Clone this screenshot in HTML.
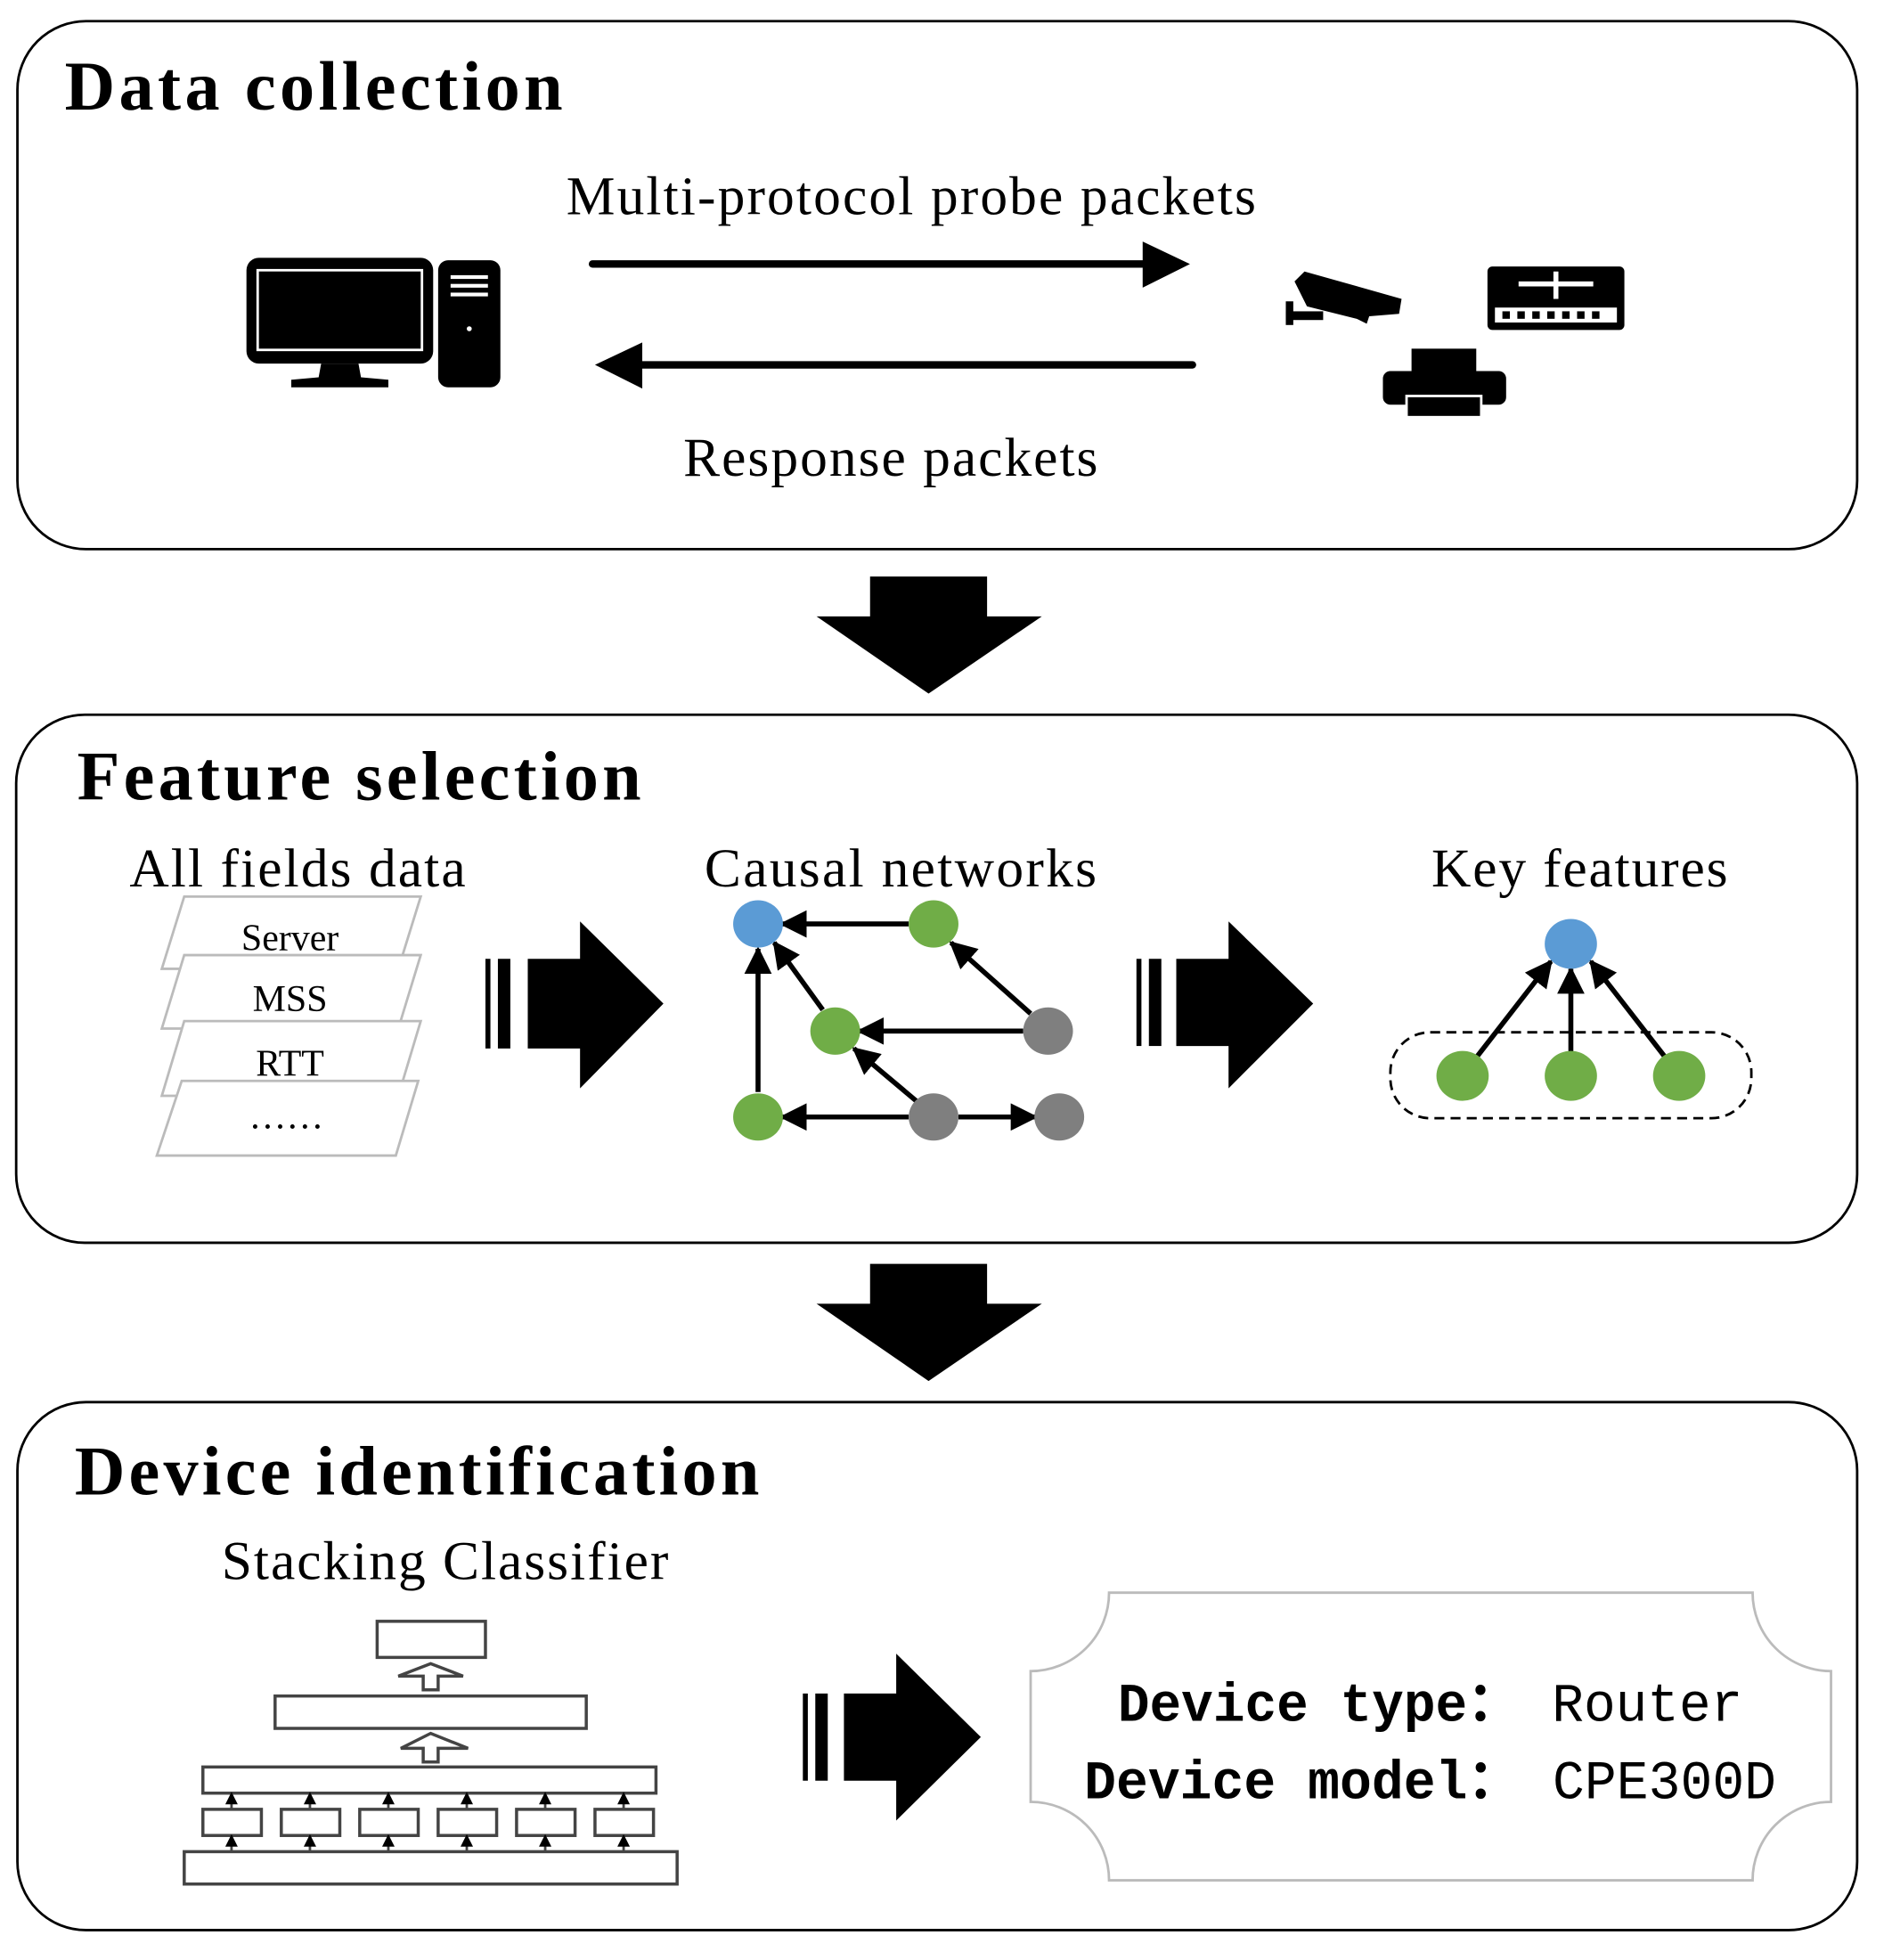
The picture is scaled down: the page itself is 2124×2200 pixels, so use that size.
<!DOCTYPE html>
<html><head><meta charset="utf-8"><style>html,body{margin:0;padding:0;background:#fff}svg{display:block}</style></head><body>
<svg width="2124" height="2200" viewBox="0 0 1520 1574" preserveAspectRatio="none" xmlns="http://www.w3.org/2000/svg">
<defs>
<marker id="ah" markerWidth="10" markerHeight="10" refX="8" refY="5" orient="auto" markerUnits="userSpaceOnUse"><path d="M0,0 L10,5 L0,10 Z" fill="#000"/></marker>
<marker id="ah2" markerWidth="22" markerHeight="22" refX="20" refY="11" orient="auto" markerUnits="userSpaceOnUse"><path d="M0,0 L22,11 L0,22 Z" fill="#000"/></marker>
</defs>
<g fill="none" stroke="#000" stroke-width="2">
<rect x="14" y="17" width="1478" height="424" rx="55"/>
<rect x="13" y="574" width="1479" height="424" rx="55"/>
<rect x="14" y="1126" width="1478" height="424" rx="55"/>
</g>
<g font-family="Liberation Serif, serif" fill="#000">
<text x="52" y="88" font-size="56" font-weight="bold" textLength="400">Data collection</text>
<text x="455" y="172" font-size="44" textLength="554">Multi-protocol probe packets</text>
<text x="549" y="382" font-size="44" textLength="333">Response packets</text>
<text x="62" y="642" font-size="56" font-weight="bold" textLength="453">Feature selection</text>
<text x="104" y="712" font-size="44" textLength="270">All fields data</text>
<text x="566" y="712" font-size="44" textLength="315">Causal networks</text>
<text x="1150" y="712" font-size="44" textLength="238">Key features</text>
<text x="60" y="1200" font-size="56" font-weight="bold" textLength="550">Device identification</text>
<text x="178" y="1268" font-size="44" textLength="359">Stacking Classifier</text>
</g>
<!-- arrows data collection -->
<line x1="476" y1="212" x2="922" y2="212" stroke="#000" stroke-width="6" stroke-linecap="round"/>
<path d="M918,194 L956,212 L918,231 Z"/>
<line x1="512" y1="293" x2="958" y2="293" stroke="#000" stroke-width="6" stroke-linecap="round"/>
<path d="M516,275 L478,293 L516,312 Z"/>
<!-- computer -->
<rect x="198" y="207" width="150" height="85" rx="10"/>
<rect x="207" y="217" width="132" height="64" fill="#000" stroke="#fff" stroke-width="2"/>
<path d="M258,292 L288,292 L290,303 L312,305 L312,311 L234,311 L234,305 L256,303 Z"/>
<rect x="352" y="209" width="50" height="102" rx="8"/>
<rect x="362" y="221" width="30" height="3" fill="#fff"/><rect x="362" y="228" width="30" height="3" fill="#fff"/><rect x="362" y="235" width="30" height="3" fill="#fff"/>
<circle cx="377" cy="264" r="2" fill="#fff"/>
<!-- camera -->
<path d="M1040,226 L1048,218 L1126,240 L1124,252 L1100,254 L1098,260 L1090,256 L1050,246 Z"/>
<rect x="1033" y="242" width="6" height="19"/><rect x="1033" y="250" width="30" height="7"/>
<!-- switch -->
<rect x="1195" y="214" width="110" height="51" rx="4"/>
<rect x="1201" y="247" width="98" height="12" fill="#fff"/>
<g fill="#000"><rect x="1207" y="250" width="6" height="6"/><rect x="1219" y="250" width="6" height="6"/><rect x="1231" y="250" width="6" height="6"/><rect x="1243" y="250" width="6" height="6"/><rect x="1255" y="250" width="6" height="6"/><rect x="1267" y="250" width="6" height="6"/><rect x="1279" y="250" width="6" height="6"/></g>
<path d="M1220,228 L1280,228 M1250,218 L1250,240" stroke="#fff" stroke-width="4"/>
<!-- printer -->
<rect x="1134" y="280" width="52" height="25"/>
<rect x="1111" y="298" width="99" height="27" rx="6"/>
<rect x="1130" y="318" width="60" height="17" fill="#000" stroke="#fff" stroke-width="2"/>
<!-- big down arrows -->
<path d="M699,463 L793,463 L793,495 L837,495 L746,557 L656,495 L699,495 Z"/>
<path d="M699,1015 L793,1015 L793,1047 L837,1047 L746,1109 L656,1047 L699,1047 Z"/>
<!-- fat right arrows -->
<g>
<rect x="390" y="770" width="4" height="72"/><rect x="400" y="770" width="10" height="72"/>
<path d="M424,770 L466,770 L466,740 L533,806 L466,874 L466,842 L424,842 Z"/>
<rect x="913" y="770" width="4" height="70"/><rect x="923" y="770" width="10" height="70"/>
<path d="M945,770 L987,770 L987,740 L1055,806 L987,874 L987,840 L945,840 Z"/>
<rect x="645" y="1360" width="4" height="70"/><rect x="655" y="1360" width="10" height="70"/>
<path d="M678,1360 L720,1360 L720,1328 L788,1395 L720,1462 L720,1430 L678,1430 Z"/>
</g>
<!-- parallelograms -->
<g fill="#fff" stroke="#bbb" stroke-width="2">
<path d="M148,720 L338,720 L320,778 L130,778 Z"/>
<path d="M148,767 L338,767 L320,826 L130,826 Z"/>
<path d="M148,820 L338,820 L320,880 L130,880 Z"/>
<path d="M146,868 L336,868 L318,928 L126,928 Z"/>
</g>
<g font-family="Liberation Serif, serif" font-size="30" text-anchor="middle">
<text x="233" y="763">Server</text><text x="233" y="812">MSS</text><text x="233" y="864">RTT</text><text x="230" y="906">……</text>
</g>
<!-- causal network -->
<g stroke="#000" stroke-width="4" marker-end="url(#ah2)">
<line x1="730" y1="742" x2="628" y2="742"/>
<line x1="828" y1="814" x2="764" y2="757"/>
<line x1="661" y1="811" x2="622" y2="757"/>
<line x1="609" y1="877" x2="609" y2="762"/>
<line x1="822" y1="828" x2="690" y2="828"/>
<line x1="736" y1="884" x2="686" y2="842"/>
<line x1="730" y1="897" x2="628" y2="897"/>
<line x1="770" y1="897" x2="832" y2="897"/>
</g>
<g>
<ellipse cx="609" cy="742" rx="20" ry="19" fill="#5b9bd5"/>
<ellipse cx="750" cy="742" rx="20" ry="19" fill="#70ad47"/>
<ellipse cx="842" cy="828" rx="20" ry="19" fill="#7f7f7f"/>
<ellipse cx="671" cy="828" rx="20" ry="19" fill="#70ad47"/>
<ellipse cx="609" cy="897" rx="20" ry="19" fill="#70ad47"/>
<ellipse cx="750" cy="897" rx="20" ry="19" fill="#7f7f7f"/>
<ellipse cx="851" cy="897" rx="20" ry="19" fill="#7f7f7f"/>
</g>
<!-- key features -->
<rect x="1117" y="829" width="290" height="69" rx="32" fill="none" stroke="#000" stroke-width="2" stroke-dasharray="8,5"/>
<g stroke="#000" stroke-width="4" marker-end="url(#ah2)">
<line x1="1187" y1="848" x2="1246" y2="772"/>
<line x1="1262" y1="845" x2="1262" y2="778"/>
<line x1="1337" y1="848" x2="1278" y2="772"/>
</g>
<ellipse cx="1262" cy="758" rx="21" ry="20" fill="#5b9bd5"/>
<ellipse cx="1175" cy="864" rx="21" ry="20" fill="#70ad47"/>
<ellipse cx="1262" cy="864" rx="21" ry="20" fill="#70ad47"/>
<ellipse cx="1349" cy="864" rx="21" ry="20" fill="#70ad47"/>
<!-- stacking -->
<g fill="#fff" stroke="#444" stroke-width="2.5">
<rect x="303" y="1302" width="87" height="29"/>
<path d="M340,1357 L352,1357 L352,1346 L372,1346 L346,1336 L320,1346 L340,1346 Z"/>
<rect x="221" y="1362" width="250" height="26"/>
<path d="M340,1415 L352,1415 L352,1404 L376,1404 L346,1392 L322,1404 L340,1404 Z"/>
<rect x="163" y="1419" width="364" height="21"/>
<rect x="163" y="1453" width="47" height="21"/><rect x="226" y="1453" width="47" height="21"/><rect x="289" y="1453" width="47" height="21"/><rect x="352" y="1453" width="47" height="21"/><rect x="415" y="1453" width="47" height="21"/><rect x="478" y="1453" width="47" height="21"/>
<rect x="148" y="1487" width="396" height="26"/>
</g>
<g stroke="#444" stroke-width="2" marker-end="url(#ah)">
<line x1="186" y1="1453" x2="186" y2="1441"/><line x1="249" y1="1453" x2="249" y2="1441"/><line x1="312" y1="1453" x2="312" y2="1441"/><line x1="375" y1="1453" x2="375" y2="1441"/><line x1="438" y1="1453" x2="438" y2="1441"/><line x1="501" y1="1453" x2="501" y2="1441"/>
<line x1="186" y1="1487" x2="186" y2="1475"/><line x1="249" y1="1487" x2="249" y2="1475"/><line x1="312" y1="1487" x2="312" y2="1475"/><line x1="375" y1="1487" x2="375" y2="1475"/><line x1="438" y1="1487" x2="438" y2="1475"/><line x1="501" y1="1487" x2="501" y2="1475"/>
</g>
<!-- output box -->
<path d="M891,1279 L1408,1279 A63,63 0 0 0 1471,1342 L1471,1447 A63,63 0 0 0 1408,1510 L891,1510 A63,63 0 0 0 828,1447 L828,1342 A63,63 0 0 0 891,1279 Z" fill="#fff" stroke="#bbb" stroke-width="2"/>
<g font-family="Liberation Mono, 'Noto Sans CJK SC', monospace" font-size="44">
<text x="898" y="1382" textLength="502" lengthAdjust="spacingAndGlyphs"><tspan font-weight="bold">Device type： </tspan>Router</text>
<text x="871" y="1444" textLength="556" lengthAdjust="spacingAndGlyphs"><tspan font-weight="bold">Device model： </tspan>CPE300D</text>
</g>
</svg>
</body></html>
